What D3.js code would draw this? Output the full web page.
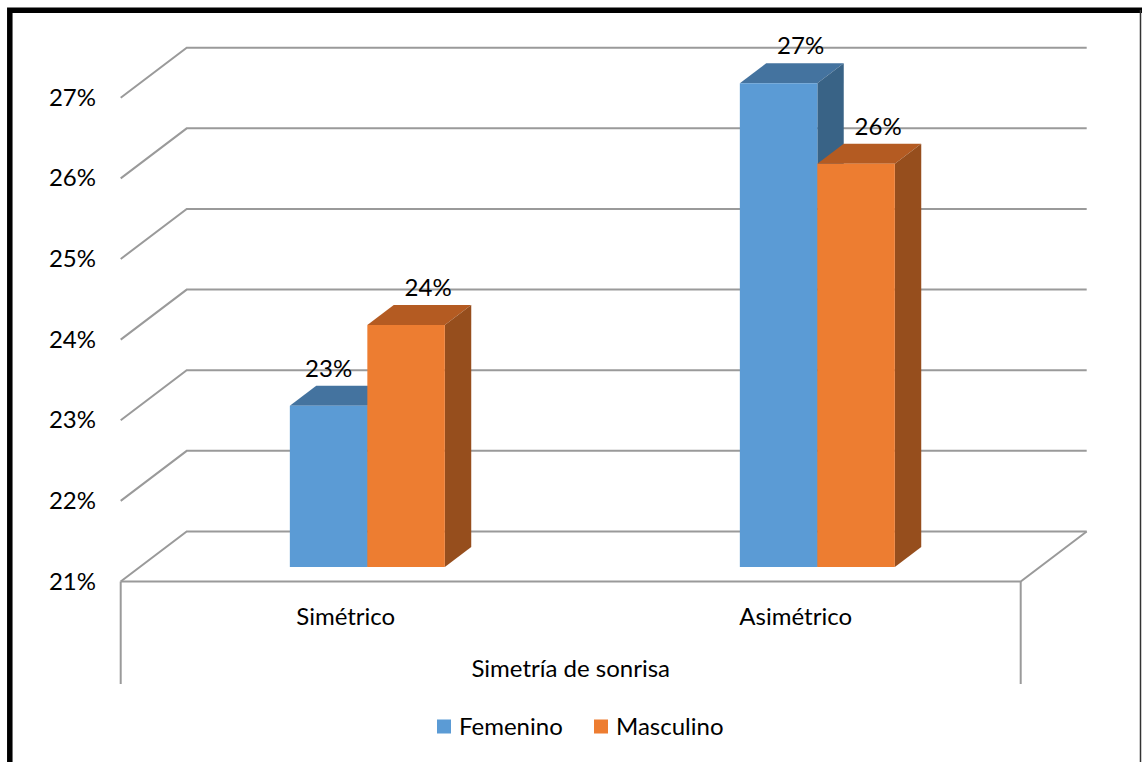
<!DOCTYPE html>
<html>
<head>
<meta charset="utf-8">
<script src="https://cdn.jsdelivr.net/npm/d3@7"></script>
<style>
  html, body { margin: 0; padding: 0; background: #fff; }
  svg { display: block; }
  text { font-family: "Lato", "Open Sans", sans-serif; fill: #000; }
</style>
</head>
<body>
<svg id="chart" width="1142" height="762"></svg>
<script>
// ---- Data ----
const categories = ["Simétrico", "Asimétrico"];
const series = ["Femenino", "Masculino"];
const femenino = [23, 27];
const masculino = [24, 26];
const yTicks = [21, 22, 23, 24, 25, 26, 27];
const axisTitle = "Simetría de sonrisa";

// ---- Layout / style ----
const W = 1142, H = 762;
const DX = 66, DY = -50;          // depth vector of the 3D box
const D0 = 0.29, D1 = 0.69;       // bar depth span (fraction of box depth)
const GROUP_W = 155;              // width of a category's bar group
const FONT = 24;
const colors = {
  Femenino: { front: "#5b9bd5", top: "#44739f", side: "#396386" },
  Masculino: { front: "#ed7d31", top: "#b45b22", side: "#964e1d" }
};
const gridColor = "#9a9a9a";

const svg = d3.select("#chart");
svg.append("rect").attr("width", W).attr("height", H).attr("fill", "#fff");

const y = d3.scaleLinear().domain([21, 27]).range([581.5, 97.7]);
const x = d3.scaleBand().domain(categories).range([120.7, 1020.7]).padding(0);
const xs = d3.scaleBand().domain(series).range([0, GROUP_W]).padding(0);
const groupOffset = (x.bandwidth() - GROUP_W) / 2 + 2.5;

const proj = (xf, v, d) => [xf + DX * d, y(v) + DY * d];
const base = y.domain()[0];
const x0 = x.range()[0], x1 = x.range()[1];

// ---- Back wall gridlines and left wall diagonals ----
const grid = svg.append("g").attr("stroke", gridColor).attr("stroke-width", 2).attr("fill", "none");
yTicks.forEach(t => {
  const a = proj(x0, t, 0), b = proj(x0, t, 1), c = proj(x1, t, 1);
  grid.append("path").attr("d", d3.line()([a, b, c]));
});
// floor front edge and right diagonal
grid.append("path").attr("d", d3.line()([proj(x0, base, 0), proj(x1, base, 0), proj(x1, base, 1)]));
// category boundary ticks (extended down)
[x0, x1].forEach(xx => {
  grid.append("line")
    .attr("x1", xx).attr("x2", xx)
    .attr("y1", y(base)).attr("y2", 684);
});

// ---- Y axis labels ----
svg.append("g").selectAll("text").data(yTicks).join("text")
  .attr("x", 96).attr("y", d => y(d) + 2)
  .attr("text-anchor", "end").attr("dominant-baseline", "middle")
  .style("font-size", FONT + "px")
  .text(d => d + "%");

// ---- Bars ----
const valuesBySeries = { Femenino: femenino, Masculino: masculino };
const bars = [];
categories.forEach((cat, i) => {
  series.forEach(s => {
    const xl = x(cat) + groupOffset + xs(s);
    bars.push({ cat, s, v: valuesBySeries[s][i], xl, xr: xl + xs.bandwidth() });
  });
});

const gBars = svg.append("g");
const poly = pts => "M" + pts.map(p => p.join(",")).join("L") + "Z";
bars.forEach(b => {
  const c = colors[b.s];
  gBars.append("path").attr("fill", c.top)
    .attr("d", poly([proj(b.xl, b.v, D0), proj(b.xr, b.v, D0), proj(b.xr, b.v, D1), proj(b.xl, b.v, D1)]));
  gBars.append("path").attr("fill", c.side)
    .attr("d", poly([proj(b.xr, b.v, D0), proj(b.xr, b.v, D1), proj(b.xr, base, D1), proj(b.xr, base, D0)]));
  gBars.append("path").attr("fill", c.front)
    .attr("d", poly([proj(b.xl, b.v, D0), proj(b.xr, b.v, D0), proj(b.xr, base, D0), proj(b.xl, base, D0)]));
});

// ---- Data labels ----
const gLab = svg.append("g");
bars.forEach((b, k) => {
  const front = proj(b.xl, b.v, D0);
  const frontCenter = front[0] + (b.xr - b.xl) / 2;
  const baseline = front[1] - 29;
  let lx = frontCenter + 22;
  const halfW = 22;
  const next = bars[k + 1];
  if (next && next.cat === b.cat) {
    const nf = proj(next.xl, next.v, D0);
    if (nf[1] < baseline && lx + halfW > nf[0]) lx = frontCenter;
  }
  gLab.append("text")
    .attr("x", lx).attr("y", baseline)
    .attr("text-anchor", "middle")
    .style("font-size", FONT + "px")
    .text(b.v + "%");
});

// ---- Category labels ----
svg.append("g").selectAll("text").data(categories).join("text")
  .attr("x", d => x(d) + x.bandwidth() / 2)
  .attr("y", 625)
  .attr("text-anchor", "middle")
  .style("font-size", FONT + "px")
  .text(d => d);

svg.append("text")
  .attr("x", (x0 + x1) / 2).attr("y", 677)
  .attr("text-anchor", "middle")
  .style("font-size", FONT + "px")
  .text(axisTitle);

// ---- Legend ----
const legendPos = [437, 594];
const lg = svg.append("g");
series.forEach((s, i) => {
  lg.append("rect").attr("x", legendPos[i]).attr("y", 719.5)
    .attr("width", 14).attr("height", 14).attr("fill", colors[s].front);
  lg.append("text").attr("x", legendPos[i] + 22).attr("y", 735)
    .style("font-size", FONT + "px").text(s);
});

// ---- Frame ----
svg.append("path").attr("d", "M9.8,762V10.3H1142")
  .attr("fill", "none").attr("stroke", "#000").attr("stroke-width", 5.5);
svg.append("line").attr("x1", 1140.5).attr("x2", 1140.5).attr("y1", 10).attr("y2", 762)
  .attr("stroke", "#333").attr("stroke-width", 1.5);
</script>
</body>
</html>
